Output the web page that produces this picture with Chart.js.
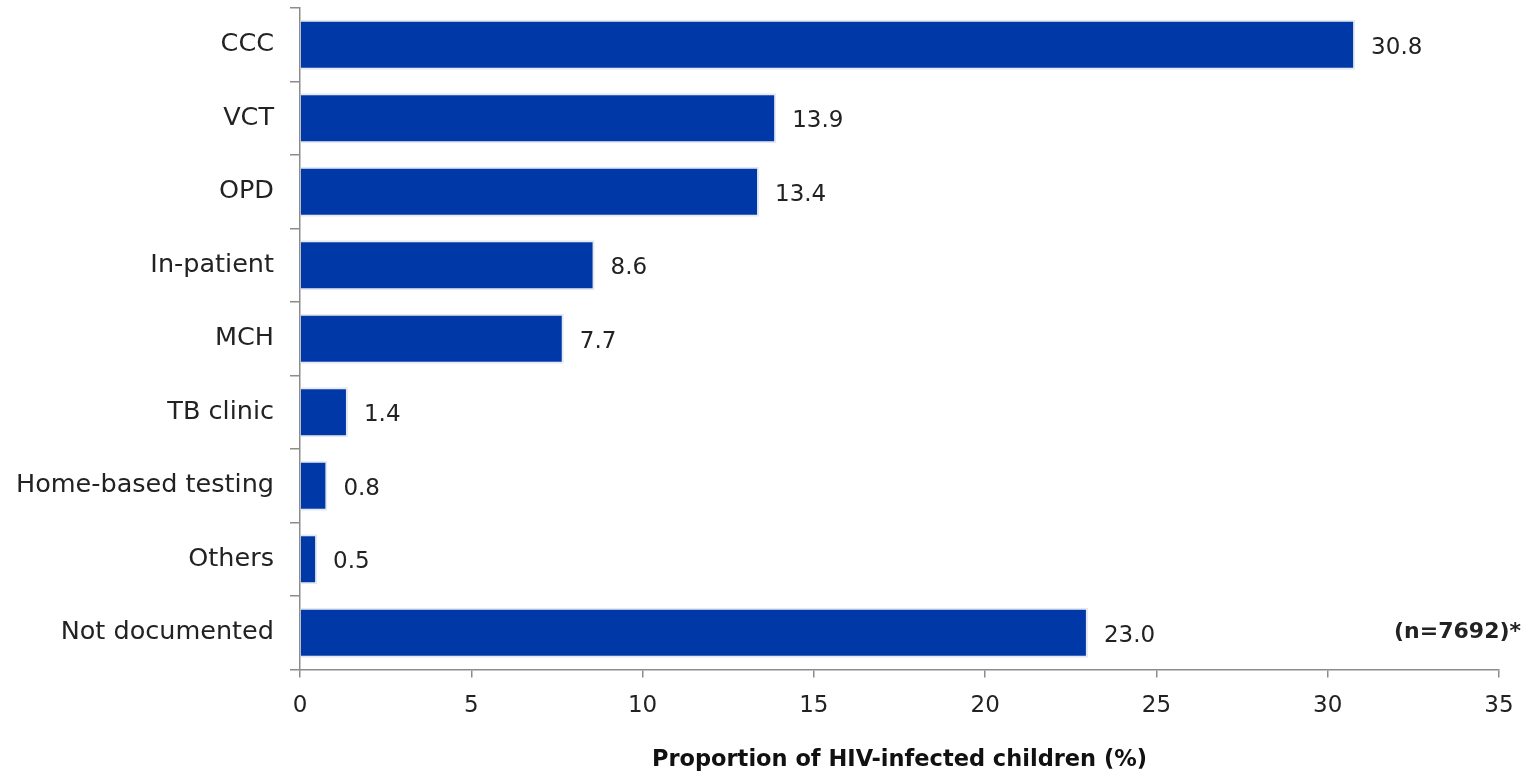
<!DOCTYPE html>
<html>
<head>
<meta charset="utf-8">
<script src="https://cdn.jsdelivr.net/npm/chart.js@4"></script>
<style>
  body { margin: 0; background: #fff; }
  #wrap { width: 1531px; height: 774px; }
</style>
</head>
<body>
<div id="wrap"><canvas id="barChart"></canvas></div>
<script>
// Source of HIV testing for infected children
const categories = ["CCC", "VCT", "OPD", "In-patient", "MCH", "TB clinic", "Home-based testing", "Others", "Not documented"];
const proportions = [30.8, 13.9, 13.4, 8.6, 7.7, 1.4, 0.8, 0.5, 23.0];
const xTicks = [0, 5, 10, 15, 20, 25, 30, 35];
const axisTitle = "Proportion of HIV-infected children (%)";
const noteText = "(n=7692)*";

const FONT = "'DejaVu Sans', sans-serif";

// value labels next to each bar + sample size note
const labelPlugin = {
  id: "barLabels",
  afterDatasetsDraw(chart) {
    const ctx = chart.ctx;
    const meta = chart.getDatasetMeta(0);
    ctx.save();
    ctx.font = "23px " + FONT;
    ctx.fillStyle = "#222";
    ctx.textBaseline = "middle";
    ctx.textAlign = "left";
    meta.data.forEach((bar, i) => {
      ctx.fillText(proportions[i].toFixed(1), bar.x + 16, bar.y + 3);
    });
    ctx.font = "bold 22px " + FONT;
    ctx.textAlign = "right";
    const last = meta.data[meta.data.length - 1];
    ctx.fillText(noteText, chart.width - 10, last.y);
    ctx.restore();
  }
};

document.addEventListener("DOMContentLoaded", () => {
  const ctx = document.getElementById("barChart").getContext("2d");
  new Chart(ctx, {
    type: "bar",
    data: {
      labels: categories,
      datasets: [{
        data: proportions,
        backgroundColor: "#0038a8",
        borderColor: "#e4e8f0",
        borderWidth: 2,
        borderSkipped: "left",
        barPercentage: 0.68,
        categoryPercentage: 1.0
      }]
    },
    options: {
      indexAxis: "y",
      responsive: true,
      maintainAspectRatio: false,
      animation: false,
      layout: { padding: { top: 8, right: 32, left: 0, bottom: 0 } },
      plugins: {
        legend: { display: false },
        tooltip: { enabled: false }
      },
      scales: {
        x: {
          min: 0,
          max: 35,
          afterBuildTicks: axis => { axis.ticks = xTicks.map(v => ({ value: v })); },
          grid: { drawOnChartArea: false, tickLength: 8, color: "#8c8c8c", lineWidth: 1.5 },
          border: { color: "#8c8c8c", width: 1.5 },
          ticks: { color: "#222", font: { family: FONT, size: 23 }, padding: 15 },
          title: {
            display: true,
            text: axisTitle,
            color: "#111",
            font: { family: FONT, size: 22.5, weight: "bold" },
            padding: { top: 12, bottom: 0 }
          }
        },
        y: {
          afterFit: axis => { axis.paddingTop = 0; axis.paddingBottom = 0; },
          grid: { drawOnChartArea: false, offset: true, tickLength: 10, color: "#8c8c8c", lineWidth: 1.5 },
          border: { color: "#8c8c8c", width: 1.5 },
          ticks: { color: "#222", font: { family: FONT, size: 25.5 }, padding: 16 }
        }
      }
    },
    plugins: [labelPlugin]
  });
});
</script>
</body>
</html>
